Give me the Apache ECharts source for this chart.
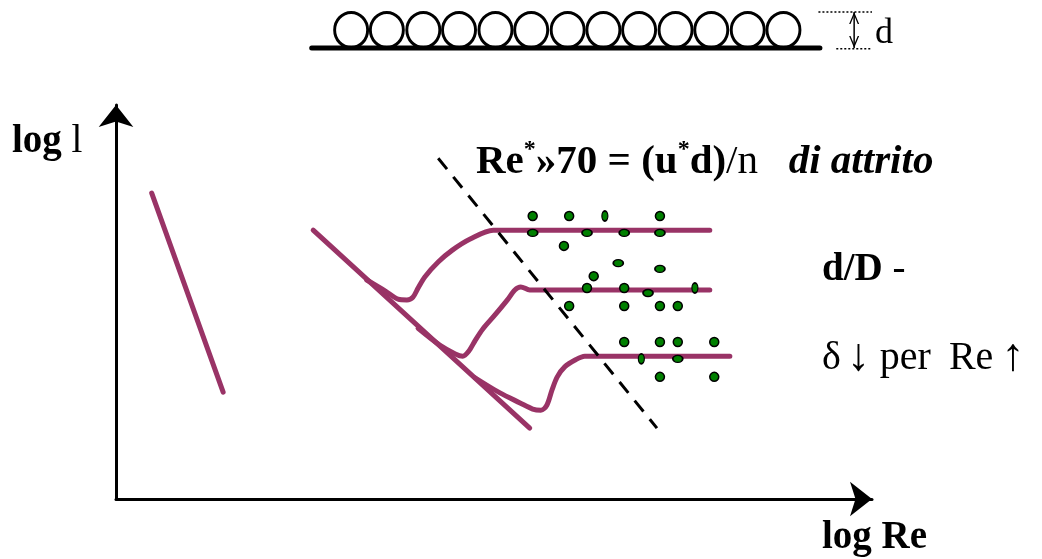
<!DOCTYPE html>
<html>
<head>
<meta charset="utf-8">
<script src="https://cdn.jsdelivr.net/npm/echarts@6/dist/echarts.min.js"></script>
<style>
  html, body { margin: 0; padding: 0; background: #fff; }
  #chart { width: 1042px; height: 559px; }
</style>
</head>
<body>
<div id="chart"></div>
<script>
// Friction factor against Reynolds number (log-log sketch), plot units on both axes.
const axisMaxX = 101.6;
const axisMaxY = 102.9;

const laminarLine = [[4.8, 79.9], [14.4, 27.9]];
const smoothPipeLine = [[26.5, 70.2], [55.6, 18.5]];
const transitionLine = [[43.3, 89.0], [72.7, 18.5]];

// Rough-pipe curves: leave the smooth-pipe line, dip, then level off.
const roughUpper = [
  [33.7, 57.2], [36.2, 54.3], [37.9, 52.2], [39.1, 52.0], [39.9, 52.7], [40.6, 55.1],
  [41.5, 58.0], [43.3, 61.9], [45.2, 65.0], [47.6, 67.9], [50.7, 70.2], [79.8, 70.2]
];
const roughMiddle = [
  [40.6, 44.6], [43.5, 40.2], [45.6, 37.9], [46.6, 37.3], [47.4, 38.6], [48.3, 41.5],
  [49.3, 44.4], [50.9, 48.0], [52.6, 52.0], [53.6, 54.6], [54.4, 55.4], [55.6, 54.6], [79.8, 54.6]
];
const roughLower = [
  [48.3, 31.6], [51.6, 27.7], [54.3, 25.1], [56.0, 23.5], [57.1, 23.2], [57.9, 24.5],
  [58.6, 28.5], [59.3, 31.9], [60.3, 34.5], [61.7, 36.3], [63.0, 37.3], [82.5, 37.3]
];

// Measured points around the fully rough plateaus
const pointsRound = [
  [56.0, 73.9], [60.9, 73.9], [73.1, 73.9], [60.2, 66.1], [64.2, 58.2], [63.3, 55.1],
  [68.3, 55.1], [60.9, 50.4], [68.3, 50.4], [73.1, 50.4], [75.5, 50.4], [68.3, 41.0],
  [73.1, 41.0], [75.5, 41.0], [80.4, 41.0], [73.1, 31.9], [80.4, 31.9]
];
const pointsFlat = [
  [56.0, 69.5], [63.3, 69.5], [68.3, 69.5], [73.1, 69.5], [67.5, 61.6], [73.1, 60.1],
  [71.5, 53.8], [75.5, 36.6]
];
const pointsNarrow = [[65.7, 73.9], [77.8, 55.1], [70.6, 36.6]];

// Wall roughness sketch above the plot: grains of height d on a wall
const grainX = [31.6, 36.4, 41.3, 46.1, 51.0, 55.8, 60.7, 65.5, 70.3, 75.2, 80.0, 84.9, 89.7];
const grainY = 122.5;
const wallLine = [[26.3, 117.8], [94.6, 117.8]];
const grainTopGuide = [[94.4, 127.2], [101.6, 127.2]];
const grainBottomGuide = [[96.8, 117.6], [101.6, 117.6]];
const grainHeightArrow = [[99.2, 127.2], [99.2, 117.8]];

const PURPLE = '#993366';
const GREEN = '#008000';
const SERIF = '"Liberation Serif", "Times New Roman", serif';

const chart = echarts.init(document.getElementById('chart'), null, { renderer: 'canvas' });

function curve(data, smooth) {
  return {
    type: 'line', data: data, smooth: smooth, showSymbol: false, symbol: 'none',
    clip: false, silent: true, z: 2,
    lineStyle: { color: PURPLE, width: 5, cap: 'round', join: 'round' }
  };
}
function dots(data, size) {
  return {
    type: 'scatter', data: data, symbol: 'circle', symbolSize: size, clip: false,
    silent: true, z: 4,
    itemStyle: { color: GREEN, opacity: 1, borderColor: '#000', borderWidth: 1.5 }
  };
}
function guide(data) {
  return {
    type: 'line', data: data, showSymbol: false, symbol: 'none', clip: false, silent: true,
    lineStyle: { color: '#000', width: 1.5, type: [2, 2] }
  };
}

// open arrow head pointing up
const chevron = 'path://M0,10 L5,0 L10,10 L8.6,10 L5,2.8 L1.4,10 Z';

function serifRich(size) {
  return {
    b: { fontFamily: SERIF, fontSize: size, fontWeight: 'bold', lineHeight: 48 },
    r: { fontFamily: SERIF, fontSize: size, lineHeight: 48 },
    i: { fontFamily: SERIF, fontSize: size, fontWeight: 'bold', fontStyle: 'italic', lineHeight: 48 },
    s: { fontFamily: SERIF, fontSize: 24, fontWeight: 'bold', lineHeight: 48, verticalAlign: 'top' }
  };
}

const option = {
  animation: false,
  backgroundColor: '#fff',
  grid: { left: 116, top: 105, right: 170, bottom: 60, containLabel: false },
  xAxis: {
    type: 'value', min: 0, max: axisMaxX,
    axisLine: { show: true, onZero: true, symbol: ['none', 'arrow'], symbolSize: [26, 22],
      lineStyle: { color: '#000', width: 3 } },
    axisTick: { show: false }, axisLabel: { show: false }, splitLine: { show: false }
  },
  yAxis: {
    type: 'value', min: 0, max: axisMaxY,
    axisLine: { show: true, onZero: true, symbol: ['none', 'arrow'], symbolSize: [26, 22],
      lineStyle: { color: '#000', width: 3 } },
    axisTick: { show: false }, axisLabel: { show: false }, splitLine: { show: false }
  },
  series: [
    curve(laminarLine, false),
    curve(smoothPipeLine, false),
    curve(roughUpper, 0.3),
    curve(roughMiddle, 0.3),
    curve(roughLower, 0.3),
    {
      type: 'line', data: transitionLine, showSymbol: false, symbol: 'none', clip: false,
      silent: true, z: 3,
      lineStyle: { color: '#000', width: 3, type: [14, 10] }
    },
    dots(pointsRound, 9),
    dots(pointsFlat, [10, 7]),
    dots(pointsNarrow, [6, 10]),
    {
      type: 'scatter', data: grainX.map(function (x) { return [x, grainY]; }),
      symbol: 'circle', symbolSize: [33, 35], clip: false, silent: true, z: 2,
      itemStyle: { color: '#fff', opacity: 1, borderColor: '#000', borderWidth: 3 }
    },
    {
      type: 'line', data: wallLine, showSymbol: false, symbol: 'none', clip: false,
      silent: true, z: 3, lineStyle: { color: '#000', width: 5, cap: 'round' }
    },
    guide(grainTopGuide),
    guide(grainBottomGuide),
    {
      // double-headed arrow marking the grain height d
      type: 'line', clip: false, silent: true, showSymbol: true, symbolSize: [10, 12],
      data: [
        { value: grainHeightArrow[0], symbol: chevron, symbolRotate: 0, symbolOffset: [0, 6] },
        { value: grainHeightArrow[1], symbol: chevron, symbolRotate: 180, symbolOffset: [0, -6] }
      ],
      itemStyle: { color: '#000', opacity: 1 },
      lineStyle: { color: '#000', width: 1.5 }
    }
  ],
  graphic: [
    {
      type: 'text', x: 12, y: 142, silent: true,
      style: { text: '{b|log }{r|l}', verticalAlign: 'middle', fill: '#000', rich: serifRich(39) }
    },
    {
      type: 'text', x: 822, y: 538, silent: true,
      style: { text: '{b|log Re}', verticalAlign: 'middle', fill: '#000', rich: serifRich(39) }
    },
    {
      type: 'text', x: 476, y: 162, silent: true,
      style: {
        text: '{b|Re}{s|*}{b|»70 = (u}{s|*}{b|d)}{r|/n   }{i|di attrito}',
        verticalAlign: 'middle', fill: '#000', rich: serifRich(41)
      }
    },
    {
      type: 'text', x: 822, y: 270, silent: true,
      style: { text: '{b|d/D }{r|-}', verticalAlign: 'middle', fill: '#000', rich: serifRich(39) }
    },
    {
      type: 'text', x: 822, y: 358, silent: true,
      style: {
        text: '{g|δ}{a|↓}{p|per}{e|Re}{u|↑}', verticalAlign: 'middle', fill: '#000',
        rich: {
          g: { fontFamily: SERIF, fontSize: 40, lineHeight: 48 },
          a: { fontFamily: SERIF, fontSize: 46, lineHeight: 48, padding: [0, 0, 0, 6] },
          p: { fontFamily: SERIF, fontSize: 40, lineHeight: 48, padding: [0, 0, 0, 10] },
          e: { fontFamily: SERIF, fontSize: 40, lineHeight: 48, padding: [0, 0, 0, 18] },
          u: { fontFamily: SERIF, fontSize: 46, lineHeight: 48, padding: [0, 0, 0, 8] }
        }
      }
    },
    {
      type: 'text', x: 875, y: 34, silent: true,
      style: { text: 'd', verticalAlign: 'middle', fill: '#000', fontFamily: SERIF, fontSize: 36 }
    }
  ]
};

chart.setOption(option);
</script>
</body>
</html>
